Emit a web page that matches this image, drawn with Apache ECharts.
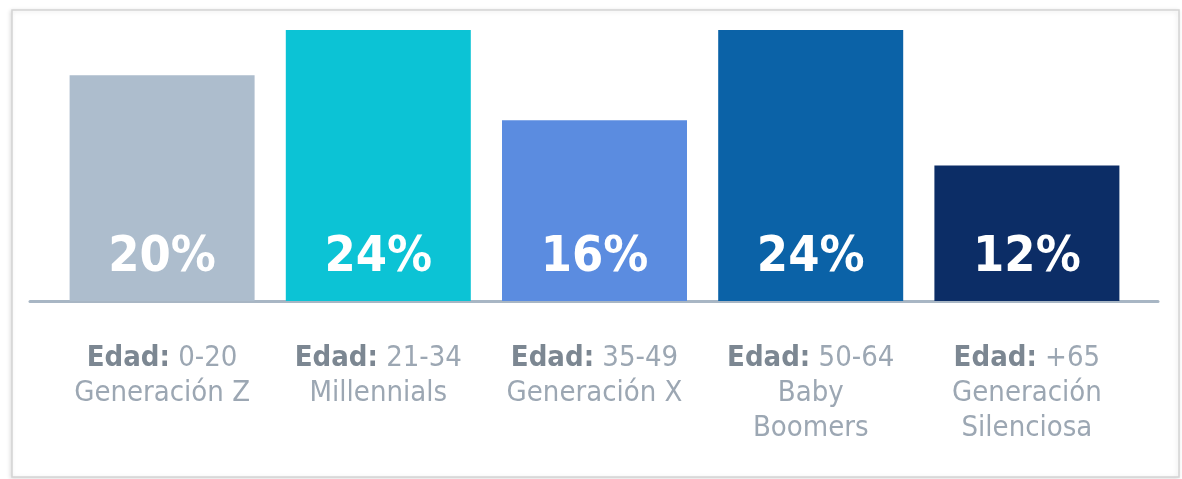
<!DOCTYPE html>
<html>
<head>
<meta charset="utf-8">
<script src="https://cdn.jsdelivr.net/npm/echarts@6/dist/echarts.min.js"></script>
<style>
html,body{margin:0;padding:0;background:#fff;}
#chart{width:1182px;height:479px;}
</style>
</head>
<body>
<div id="chart"></div>
<script>
const ages = ['0-20', '21-34', '35-49', '50-64', '+65'];
const groups = ['Generación Z', 'Millennials', 'Generación X', 'Baby\nBoomers', 'Generación\nSilenciosa'];
const shares = [20, 24, 16, 24, 12];
const barColors = ['#adbdcd', '#0cc3d5', '#5b8ce0', '#0b62a7', '#0c2d66'];

const FONT = '"DejaVu Sans Condensed", "Liberation Sans Narrow", sans-serif';

const chart = echarts.init(document.getElementById('chart'), null, {renderer: 'canvas'});

const option = {
  backgroundColor: '#ffffff',
  animation: false,
  graphic: [{
    type: 'rect',
    shape: {x: 12, y: 10, width: 1167, height: 467},
    style: {fill: '#ffffff', stroke: '#d4d4d4', lineWidth: 1.5,
            shadowColor: 'rgba(0,0,0,0.12)', shadowBlur: 4, shadowOffsetX: -1, shadowOffsetY: 1},
    z: -10
  }],
  grid: [
    {left: 54, right: 47, top: 30, bottom: 178},
    {left: 30, right: 24, top: 30, bottom: 178}
  ],
  xAxis: [
    {
      type: 'category',
      gridIndex: 0,
      data: ages,
      axisLine: {show: false},
      axisTick: {show: false},
      axisLabel: {
        margin: 40,
        interval: 0,
        fontFamily: FONT,
        lineHeight: 35,
        formatter: function (val, idx) {
          const g = groups[idx].split('\n').map(s => '{n|' + s + '}').join('\n');
          return '{b|Edad:}{n| ' + val + '}\n' + g;
        },
        rich: {
          b: {fontFamily: FONT, fontSize: 29, fontWeight: 'bold', color: '#7c8792', lineHeight: 35},
          n: {fontFamily: FONT, fontSize: 29, color: '#9ca7b3', lineHeight: 35}
        }
      }
    },
    {
      type: 'value',
      gridIndex: 1,
      min: 0, max: 1,
      axisLine: {show: true, lineStyle: {color: '#a8b6c4', width: 3}},
      axisTick: {show: false},
      axisLabel: {show: false},
      splitLine: {show: false}
    }
  ],
  yAxis: [
    {type: 'value', gridIndex: 0, min: 0, max: 24, show: false},
    {type: 'value', gridIndex: 1, min: 0, max: 1, show: false}
  ],
  series: [{
    type: 'bar',
    xAxisIndex: 0,
    yAxisIndex: 0,
    barWidth: 185,
    data: shares.map((v, i) => ({value: v, itemStyle: {color: barColors[i]}})),
    label: {
      show: true,
      position: 'insideBottom',
      distance: 18,
      formatter: '{c}%',
      color: '#ffffff',
      fontFamily: FONT,
      fontWeight: 'bold',
      fontSize: 50
    }
  }]
};
chart.setOption(option);
</script>
</body>
</html>
